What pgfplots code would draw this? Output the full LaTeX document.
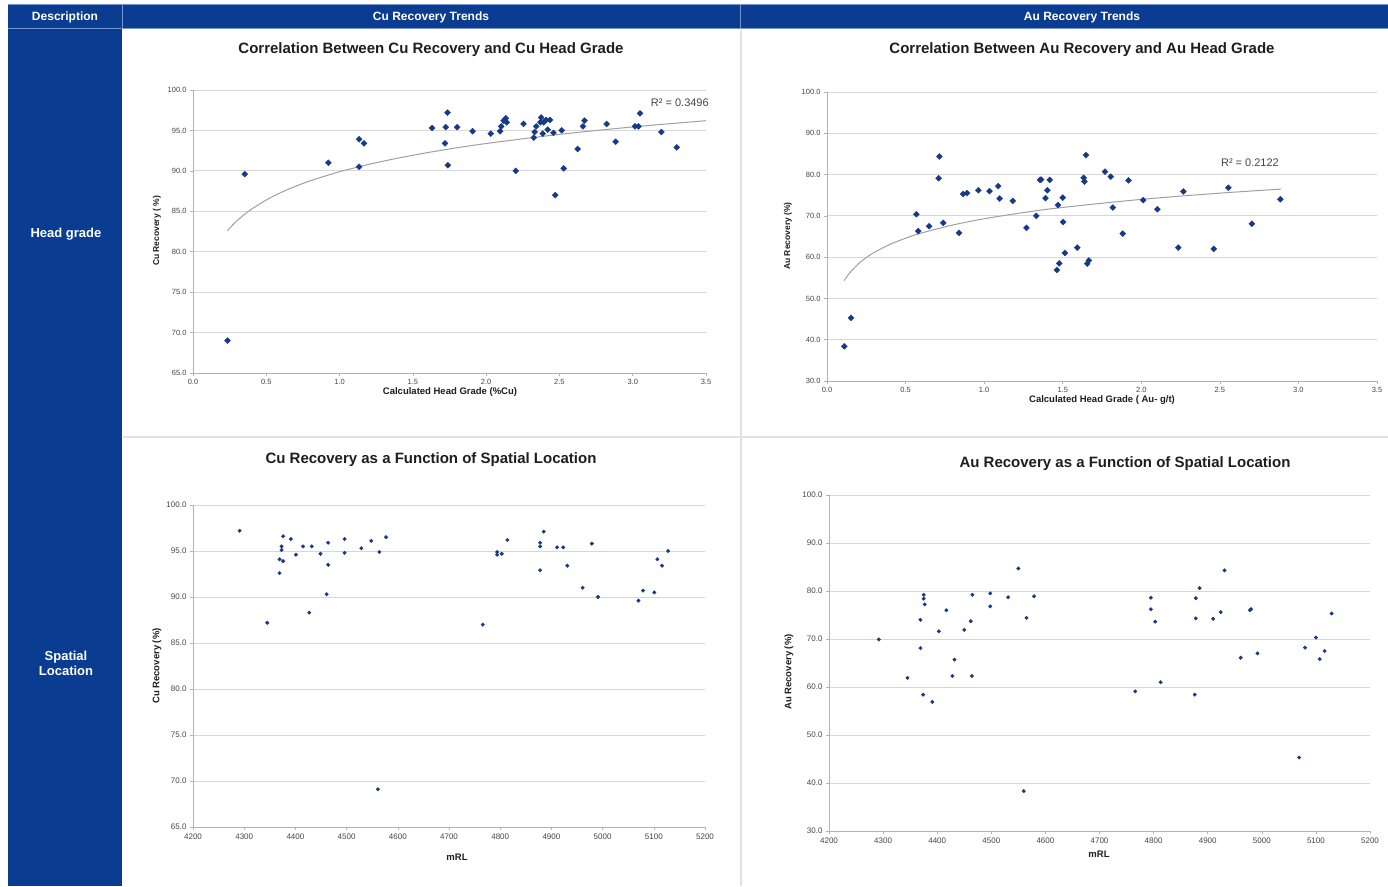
\documentclass[border=0pt]{standalone}
\usepackage{fontspec}
\setmainfont{Liberation Sans}
\usepackage{pgfplots}
\pgfplotsset{compat=1.18}
\definecolor{hdrblue}{RGB}{10,60,145}
\definecolor{hdrline}{RGB}{120,150,205}
\definecolor{sepc}{RGB}{225,225,225}
\definecolor{mk}{RGB}{22,58,135}
\definecolor{gridc}{RGB}{215,215,215}
\definecolor{tline}{RGB}{160,160,160}
\definecolor{tickc}{RGB}{70,70,70}
\definecolor{txt}{RGB}{30,30,30}
\pgfplotsset{
  base/.style={
    scale only axis, anchor=south west, enlargelimits=false, clip=false,
    axis x line*=bottom, axis y line*=left,
    axis line style={draw=gray!60, line width=0.6pt},
    tick align=outside, major tick length=3pt,
    tick style={draw=gray!60, line width=0.6pt},
    ymajorgrids, grid style={gridc, line width=0.9pt},
    /pgf/number format/assume math mode=true,
    /pgf/number format/1000 sep={},
    yticklabel style={/pgf/number format/.cd, fixed, fixed zerofill, precision=1},
  },
  dia/.style={only marks, mark=square*, mark size=2.1pt, mark options={fill=mk, draw=mk, rotate=45}},
  dot/.style={only marks, mark=*, mark size=1.75pt, mark options={fill=mk, draw=mk}},
}
\begin{document}
\begin{tikzpicture}
\useasboundingbox (0,0) rectangle (1388pt,886pt);
\fill[white] (0,0) rectangle (1388pt,886pt);
% table frame
\fill[hdrblue] (8pt,857pt) rectangle (1388pt,881pt);
\fill[hdrblue] (8pt,0pt) rectangle (122pt,857pt);
\draw[hdrline, line width=1pt] (8pt,881pt) -- (1388pt,881pt);
\draw[hdrline, line width=1pt] (8pt,857pt) -- (1388pt,857pt);
\draw[hdrline, line width=1pt] (122.5pt,857pt) -- (122.5pt,881pt);
\draw[hdrline, line width=1pt] (740.5pt,857pt) -- (740.5pt,881pt);
\draw[sepc, line width=1.3pt] (741pt,0pt) -- (741pt,856pt);
\draw[sepc, line width=1.3pt] (123pt,449pt) -- (1388pt,449pt);
\node[white, font=\bfseries\fontsize{12}{14}\selectfont] at (65pt,869pt) {Description};
\node[white, font=\bfseries\fontsize{12}{14}\selectfont] at (431pt,869pt) {Cu Recovery Trends};
\node[white, font=\bfseries\fontsize{12}{14}\selectfont] at (1082pt,869pt) {Au Recovery Trends};
\node[white, font=\bfseries\fontsize{13}{15}\selectfont] at (66pt,652pt) {Head grade};
\node[white, font=\bfseries\fontsize{13}{15}\selectfont, align=center] at (66pt,223pt) {Spatial\\Location};
% titles
\node[txt, font=\bfseries\fontsize{15}{17}\selectfont] at (431pt,836pt) {Correlation Between Cu Recovery and Cu Head Grade};
\node[txt, font=\bfseries\fontsize{15}{17}\selectfont] at (1082pt,836pt) {Correlation Between Au Recovery and Au Head Grade};
\node[txt, font=\bfseries\fontsize{15}{17}\selectfont] at (431pt,426pt) {Cu Recovery as a Function of Spatial Location};
\node[txt, font=\bfseries\fontsize{15}{17}\selectfont] at (1125pt,422pt) {Au Recovery as a Function of Spatial Location};
% axis labels
\node[txt, font=\bfseries\fontsize{9.5}{11}\selectfont] at (450pt,494pt) {Calculated Head Grade (\%Cu)};
\node[txt, font=\bfseries\fontsize{9.5}{11}\selectfont] at (1102pt,486pt) {Calculated Head Grade ( Au- g/t)};
\node[txt, font=\bfseries\fontsize{9.5}{11}\selectfont] at (457pt,29pt) {mRL};
\node[txt, font=\bfseries\fontsize{9.5}{11}\selectfont] at (1099pt,32pt) {mRL};
\node[txt, font=\bfseries\fontsize{8.5}{10}\selectfont, rotate=90] at (157pt,655pt) {Cu Recovery ( \%)};
\node[txt, font=\bfseries\fontsize{8.5}{10}\selectfont, rotate=90] at (788pt,650pt) {Au Recovery  (\%)};
\node[txt, font=\bfseries\fontsize{9.5}{11}\selectfont, rotate=90] at (157pt,220pt) {Cu Recovery (\%)};
\node[txt, font=\bfseries\fontsize{9.5}{11}\selectfont, rotate=90] at (789pt,214pt) {Au Recovery  (\%)};

% ---------- Chart 1
\begin{axis}[base, at={(193pt,513pt)}, width=513pt, height=283pt,
  xmin=0, xmax=3.5, ymin=65, ymax=100, xtick distance=0.5, ytick distance=5,
  xticklabel style={/pgf/number format/.cd, fixed, fixed zerofill, precision=1},
  ticklabel style={font=\fontsize{7.5}{8}\selectfont, text=tickc}]
\addplot[tline, line width=1pt, smooth] coordinates {
(0.235,82.59) (0.27,83.29) (0.3,83.82) (0.35,84.60) (0.4,85.27) (0.5,86.40) (0.6,87.32) (0.7,88.09) (0.8,88.77) (1.0,89.89) (1.25,91.01) (1.5,91.93) (1.75,92.71) (2.0,93.38) (2.5,94.51) (3.0,95.43) (3.5,96.20)};
\addplot[dia] coordinates {
(0.235,69.0) (0.353,89.6) (0.923,91.0) (1.133,93.9) (1.133,90.5) (1.167,93.4) (1.632,95.3) (1.724,95.4) (1.737,97.2) (1.719,93.4) (1.739,90.7) (1.802,95.4) (1.907,94.9) (2.032,94.6) (2.095,94.9) (2.103,95.5) (2.119,96.2) (2.134,96.5) (2.140,96.0) (2.202,90.0) (2.255,95.8) (2.325,94.1) (2.331,94.8) (2.341,95.5) (2.370,96.0) (2.375,96.6) (2.386,94.6) (2.393,96.0) (2.409,96.3) (2.420,95.1) (2.435,96.3) (2.459,94.7) (2.472,87.0) (2.516,95.0) (2.529,90.3) (2.624,92.7) (2.660,95.5) (2.671,96.2) (2.822,95.8) (2.883,93.6) (3.016,95.5) (3.039,95.5) (3.050,97.1) (3.196,94.8) (3.301,92.9)};
\node[text=tickc, font=\fontsize{11}{12}\selectfont] at (rel axis cs:0.949,0.954) {R² = 0.3496};
\end{axis}

% ---------- Chart 2
\begin{axis}[base, at={(827pt,505pt)}, width=550pt, height=289pt,
  xmin=0, xmax=3.5, ymin=30, ymax=100, xtick distance=0.5, ytick distance=10,
  xticklabel style={/pgf/number format/.cd, fixed, fixed zerofill, precision=1},
  ticklabel style={font=\fontsize{7.5}{8}\selectfont, text=tickc}]
\addplot[tline, line width=1pt, smooth] coordinates {
(0.11,54.33) (0.13,55.47) (0.15,56.43) (0.2,58.38) (0.25,59.90) (0.3,61.13) (0.4,63.08) (0.5,64.59) (0.6,65.83) (0.8,67.78) (1.0,69.29) (1.25,70.80) (1.5,72.04) (2.0,73.99) (2.5,75.50) (2.89,76.48)};
\addplot[dia] coordinates {
(0.110,38.4) (0.153,45.3) (0.569,70.4) (0.580,66.3) (0.650,67.5) (0.710,79.1) (0.715,84.4) (0.740,68.3) (0.840,65.9) (0.866,75.3) (0.891,75.5) (0.963,76.2) (1.034,76.0) (1.089,77.2) (1.099,74.2) (1.182,73.6) (1.269,67.1) (1.332,70.0) (1.355,78.7) (1.362,78.8) (1.390,74.3) (1.402,76.2) (1.417,78.7) (1.463,56.9) (1.478,58.5) (1.470,72.6) (1.500,74.4) (1.503,68.5) (1.513,61.0) (1.593,62.3) (1.633,79.2) (1.638,78.3) (1.648,84.7) (1.656,58.4) (1.666,59.2) (1.769,80.7) (1.806,79.5) (1.819,72.0) (1.882,65.7) (1.919,78.6) (2.012,73.8) (2.102,71.6) (2.235,62.3) (2.268,75.9) (2.461,62.0) (2.554,76.8) (2.704,68.1) (2.885,74.0)};
\node[text=tickc, font=\fontsize{11}{12}\selectfont] at (rel axis cs:0.769,0.754) {R² = 0.2122};
\end{axis}

% ---------- Chart 3
\begin{axis}[base, at={(193pt,59pt)}, width=512pt, height=322pt,
  xmin=4200, xmax=5200, ymin=65, ymax=100, xtick distance=100, ytick distance=5,
  ticklabel style={font=\fontsize{8}{9}\selectfont, text=tickc}]
\addplot[dot] coordinates {
(4291,97.2) (4345,87.2) (4369,92.6) (4369,94.1) (4373,95.5) (4373,95.1) (4376,93.9) (4376,96.6) (4391,96.3) (4401,94.6) (4415,95.5) (4427,88.3) (4432,95.5) (4449,94.7) (4461,90.3) (4464,95.9) (4464,93.5) (4496,96.3) (4496,94.8) (4529,95.3) (4548,96.1) (4561,69.1) (4564,94.9) (4577,96.5) (4766,87.0) (4794,94.9) (4794,94.6) (4803,94.7) (4814,96.2) (4878,92.9) (4878,95.5) (4878,95.9) (4885,97.1) (4911,95.4) (4923,95.4) (4931,93.4) (4961,91.0) (4979,95.8) (4991,90.0) (5070,89.6) (5079,90.7) (5101,90.5) (5107,94.1) (5116,93.4) (5128,95.0)};
\end{axis}

% ---------- Chart 4
\begin{axis}[base, at={(829pt,55pt)}, width=541pt, height=336pt,
  xmin=4200, xmax=5200, ymin=30, ymax=100, xtick distance=100, ytick distance=10,
  ticklabel style={font=\fontsize{8}{9}\selectfont, text=tickc}]
\addplot[dot] coordinates {
(4292,69.9) (4345,61.9) (4369,74.0) (4369,68.1) (4374,58.4) (4375,79.2) (4375,78.4) (4377,77.2) (4391,56.9) (4403,71.6) (4417,76.0) (4428,62.3) (4432,65.7) (4450,71.9) (4462,73.7) (4464,62.3) (4465,79.2) (4498,76.8) (4498,79.5) (4531,78.7) (4550,84.7) (4560,38.3) (4565,74.4) (4579,78.9) (4766,59.1) (4795,78.6) (4795,76.2) (4803,73.6) (4813,61.0) (4876,58.4) (4878,74.3) (4878,78.5) (4885,80.6) (4910,74.2) (4924,75.6) (4931,84.3) (4961,66.1) (4978,76.0) (4980,76.2) (4992,67.0) (5069,45.3) (5080,68.2) (5100,70.3) (5107,65.8) (5116,67.5) (5129,75.3)};
\end{axis}
\end{tikzpicture}
\end{document}
